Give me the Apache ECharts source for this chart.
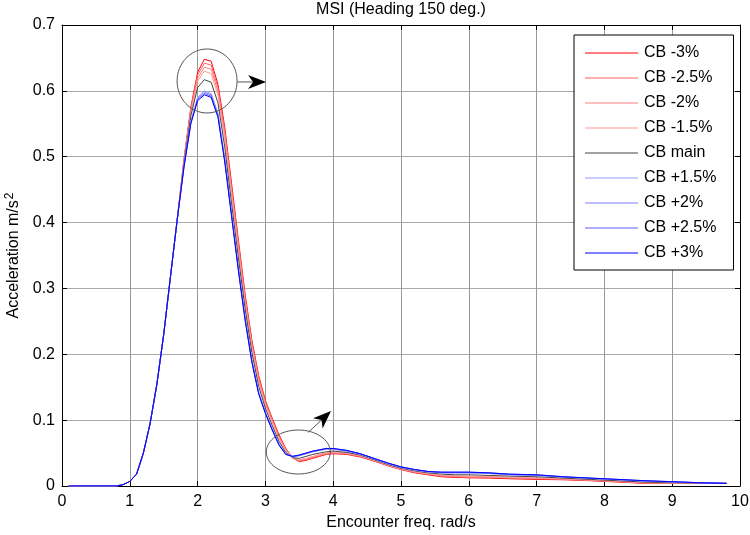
<!DOCTYPE html>
<html><head><meta charset="utf-8">
<script src="https://cdn.jsdelivr.net/npm/echarts@6/dist/echarts.min.js"></script>
<style>html,body{margin:0;padding:0;background:#fff}#c{width:750px;height:535px}</style>
</head><body><div id="c"></div>
<script>
// Encounter frequency (rad/s)
const freq = [0.1,0.8,0.9,1.0,1.1,1.2,1.3,1.4,1.5,1.6,1.7,1.8,1.9,2.0,2.1,2.2,2.3,2.4,2.5,2.6,2.7,2.8,2.9,3.0,3.1,3.2,3.3,3.4,3.5,3.6,3.7,3.8,3.9,4.0,4.2,4.4,4.6,4.8,5.0,5.2,5.4,5.6,5.8,6.0,6.3,6.6,7.0,7.4,7.8,8.2,8.6,9.0,9.4,9.8];
const rise = [0,0,0.002,0.007,0.018,0.05,0.095,0.155,0.23,0.318,0.405];
const cbM3   = rise.concat([0.497,0.575,0.628,0.648,0.645,0.610,0.545,0.460,0.375,0.292,0.222,0.168,0.130,0.103,0.078,0.057,0.043,0.037,0.039,0.042,0.045,0.048,0.049,0.048,0.044,0.038,0.031,0.025,0.020,0.017,0.014,0.013,0.0125,0.012,0.011,0.010,0.0095,0.008,0.006,0.004,0.004,0.004,0.004]);
const cbM25  = rise.concat([0.496,0.573,0.624,0.642,0.639,0.605,0.539,0.454,0.370,0.288,0.218,0.165,0.128,0.101,0.076,0.056,0.043,0.038,0.040,0.043,0.046,0.049,0.050,0.049,0.045,0.038,0.031,0.025,0.021,0.018,0.015,0.014,0.013,0.013,0.012,0.011,0.010,0.0085,0.0065,0.0045,0.004,0.004,0.004]);
const cbM2   = rise.concat([0.494,0.570,0.619,0.636,0.633,0.599,0.533,0.448,0.364,0.283,0.215,0.162,0.125,0.099,0.074,0.055,0.043,0.039,0.041,0.044,0.047,0.050,0.051,0.049,0.045,0.039,0.032,0.026,0.021,0.018,0.016,0.015,0.014,0.014,0.013,0.012,0.0105,0.009,0.007,0.005,0.0045,0.004,0.004]);
const cbM15  = rise.concat([0.493,0.567,0.615,0.630,0.626,0.594,0.528,0.443,0.359,0.279,0.211,0.159,0.123,0.097,0.072,0.054,0.043,0.040,0.042,0.045,0.048,0.050,0.051,0.050,0.046,0.039,0.032,0.026,0.022,0.019,0.016,0.015,0.015,0.014,0.013,0.012,0.011,0.009,0.007,0.005,0.0045,0.004,0.004]);
const cbMain = rise.concat([0.490,0.562,0.605,0.617,0.613,0.582,0.515,0.430,0.348,0.270,0.203,0.152,0.118,0.092,0.068,0.051,0.043,0.042,0.045,0.048,0.050,0.052,0.053,0.051,0.047,0.040,0.033,0.027,0.023,0.020,0.018,0.017,0.017,0.016,0.015,0.014,0.012,0.010,0.008,0.006,0.005,0.0045,0.004]);
const cbP15  = rise.concat([0.486,0.553,0.590,0.600,0.596,0.566,0.498,0.415,0.333,0.257,0.192,0.143,0.112,0.087,0.064,0.049,0.044,0.046,0.049,0.052,0.054,0.056,0.056,0.053,0.048,0.041,0.034,0.028,0.024,0.021,0.020,0.020,0.020,0.019,0.017,0.016,0.0135,0.0115,0.0095,0.0075,0.006,0.005,0.004]);
const cbP2   = rise.concat([0.486,0.552,0.588,0.598,0.594,0.564,0.496,0.413,0.331,0.255,0.191,0.142,0.111,0.086,0.063,0.049,0.045,0.046,0.049,0.052,0.054,0.056,0.056,0.053,0.049,0.042,0.035,0.029,0.025,0.022,0.020,0.020,0.020,0.019,0.017,0.016,0.0135,0.0115,0.0095,0.0075,0.0063,0.005,0.004]);
const cbP25  = rise.concat([0.485,0.551,0.587,0.596,0.592,0.562,0.494,0.412,0.330,0.254,0.189,0.141,0.111,0.086,0.063,0.048,0.045,0.047,0.050,0.053,0.055,0.057,0.057,0.054,0.049,0.042,0.035,0.029,0.025,0.022,0.021,0.021,0.021,0.020,0.018,0.017,0.014,0.012,0.010,0.008,0.0065,0.005,0.004]);
const cbP3   = rise.concat([0.485,0.550,0.585,0.594,0.590,0.560,0.492,0.410,0.328,0.252,0.188,0.140,0.110,0.085,0.062,0.048,0.045,0.047,0.050,0.053,0.055,0.057,0.057,0.054,0.049,0.042,0.035,0.029,0.025,0.022,0.021,0.021,0.021,0.020,0.018,0.017,0.014,0.012,0.010,0.008,0.0066,0.005,0.004]);

const seriesNames = ['CB -3%','CB -2.5%','CB -2%','CB -1.5%','CB main','CB +1.5%','CB +2%','CB +2.5%','CB +3%'];
const seriesValues = [cbM3,cbM25,cbM2,cbM15,cbMain,cbP15,cbP2,cbP25,cbP3];
const xTicks = [0,1,2,3,4,5,6,7,8,9,10];
const yTicks = [0,0.1,0.2,0.3,0.4,0.5,0.6,0.7];

// annotation anchors (data coordinates)
const circ1 = [2.14, 0.615], arr1From = [2.585, 0.6135], arr1To = [3.01, 0.6135];
const circ2 = [3.485, 0.0516], arr2From = [3.633, 0.0815], arr2To = [3.967, 0.1138];

const colors = ['#ff0000','#ff6060','#ff7f7f','#ff9a9a','#444444','#9a9aff','#7f7fff','#6060ff','#0000ff'];
const FONT = 'Liberation Sans';
const FS = 16;

const chart = echarts.init(document.getElementById('c'), null, {renderer:'canvas'});
const axisCommon = {
  axisLine:{show:true,onZero:false,lineStyle:{color:'#000',width:1}},
  axisTick:{show:true,inside:true,length:5,lineStyle:{color:'#000'}},
};
chart.setOption({
  animation:false,
  backgroundColor:'#fff',
  title:{text:'MSI (Heading 150 deg.)',left:401,textAlign:'center',top:2,padding:0,
    textStyle:{fontFamily:FONT,fontSize:FS,fontWeight:'normal',color:'#000',lineHeight:16}},
  grid:{left:62,right:10,top:25,bottom:49,containLabel:false,outerBoundsMode:'none'},
  legend:{
    orient:'vertical',left:574,top:35,
    data:seriesNames,
    icon:'rect',
    backgroundColor:'#fff',borderColor:'#000',borderWidth:1,borderRadius:0,
    padding:[10,17,9,11],itemGap:9,itemWidth:53,itemHeight:1,
    textStyle:{fontFamily:FONT,fontSize:FS,color:'#000',lineHeight:16,padding:[0,0,0,1]},
  },
  xAxis:[
    Object.assign({type:'value',min:0,max:10,interval:1,position:'bottom',
      name:'Encounter freq. rad/s',nameLocation:'middle',nameGap:28,
      nameTextStyle:{fontFamily:FONT,fontSize:FS,color:'#000'},
      axisLabel:{fontFamily:FONT,fontSize:FS,color:'#000',margin:8,
        formatter:v=>xTicks.indexOf(v)>=0?String(v):''},
      splitLine:{show:true,lineStyle:{color:'#999',width:1}}},axisCommon),
    Object.assign({type:'value',min:0,max:10,interval:1,position:'top',
      axisLabel:{show:false},splitLine:{show:false}},axisCommon)
  ],
  yAxis:[
    Object.assign({type:'value',min:0,max:0.7,interval:0.1,position:'left',
      name:'Acceleration m/s{sup|2}',nameLocation:'middle',nameGap:38,
      nameTextStyle:{fontFamily:FONT,fontSize:FS,color:'#000',
        rich:{sup:{fontFamily:FONT,fontSize:12,color:'#000',verticalAlign:'top',padding:[0,0,8,1]}}},
      axisLabel:{fontFamily:FONT,fontSize:FS,color:'#000',margin:7,
        formatter:v=>{const t=yTicks.find(k=>Math.abs(k-v)<1e-9);return t===undefined?'':String(t);}},
      splitLine:{show:true,lineStyle:{color:'#aaa',width:1}}},axisCommon),
    Object.assign({type:'value',min:0,max:0.7,interval:0.1,position:'right',
      axisLabel:{show:false},splitLine:{show:false}},axisCommon)
  ],
  series: seriesNames.map((n,i)=>({
    name:n,type:'line',xAxisIndex:0,yAxisIndex:0,
    symbol:'none',showSymbol:false,
    data:freq.map((f,j)=>[f,seriesValues[i][j]]),
    lineStyle:{color:colors[i],width:1},itemStyle:{color:colors[i]},
    emphasis:{disabled:true},z:2+i
  }))
});

function px(p){return chart.convertToPixel({xAxisIndex:0,yAxisIndex:0},p);}
function arrow(from,to){
  const a=px(from), b=px(to);
  const dx=b[0]-a[0], dy=b[1]-a[1], L=Math.hypot(dx,dy);
  const ux=dx/L, uy=dy/L, nx=-uy, ny=ux;
  const hl=18, hw=7, notch=5;
  const base=[b[0]-hl*ux,b[1]-hl*uy];
  return [
    {type:'line',shape:{x1:a[0],y1:a[1],x2:b[0]-(hl-notch)*ux,y2:b[1]-(hl-notch)*uy},
      style:{stroke:'#555',lineWidth:1},z:100},
    {type:'polygon',shape:{points:[b,[base[0]+hw*nx,base[1]+hw*ny],
      [b[0]-(hl-notch)*ux,b[1]-(hl-notch)*uy],[base[0]-hw*nx,base[1]-hw*ny]]},
      style:{fill:'#000'},z:100}
  ];
}
const c1=px(circ1), c2=px(circ2);
chart.setOption({graphic:[
  {type:'ellipse',shape:{cx:c1[0],cy:c1[1],rx:30,ry:32},style:{fill:'none',stroke:'#555',lineWidth:1},z:100},
  {type:'ellipse',shape:{cx:c2[0],cy:c2[1],rx:32,ry:22},style:{fill:'none',stroke:'#555',lineWidth:1},z:100}
].concat(arrow(arr1From,arr1To),arrow(arr2From,arr2To))});
</script></body></html>
